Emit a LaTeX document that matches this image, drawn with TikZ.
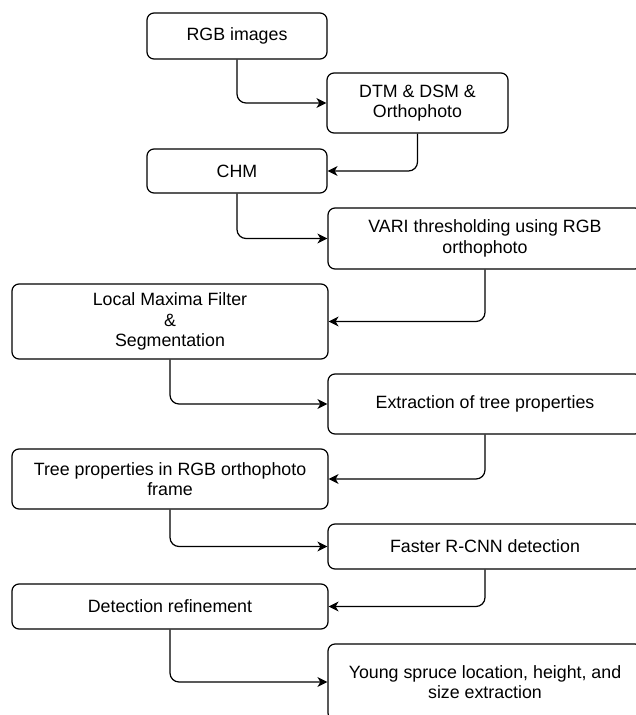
\documentclass[tikz,border=0pt]{standalone}
\usepackage{fontspec}
\setmainfont{Liberation Sans}
\usepackage{xcolor}
\usepackage{tikz}
\usetikzlibrary{arrows.meta, positioning}

\begin{document}
\begin{tikzpicture}[x=1pt, y=-1pt,
    stage/.style={draw, rounded corners=7pt, line width=1.2pt, align=center, inner sep=0pt,
        font=\fontsize{17.8}{20.7}\selectfont},
    leftstage/.style={stage, minimum width=316pt},
    rightstage/.style={stage, minimum width=314pt},
    flow/.style={line width=1.2pt, rounded corners=9pt, -{Stealth[length=10pt, width=10pt, inset=3pt]}}]
    % Page (the right column runs off the edge)
    \useasboundingbox (0,0) rectangle (636,715);
    \clip (0,0) rectangle (636,715);

    % Photogrammetry part
    \node[stage, minimum width=180pt, minimum height=46pt] (rgb) at (237,36) {RGB images};
    \node[stage, minimum width=181pt, minimum height=60pt] (dtm) at (417.5,103) {DTM \& DSM \&\\Orthophoto};
    \node[stage, minimum width=180pt, minimum height=44pt] (chm) at (237,171) {CHM};

    % Tree detection part
    \node[rightstage, minimum height=61pt] (vari) at (485,238.5) {VARI thresholding using RGB\\orthophoto};
    \node[leftstage, minimum height=75pt] (lmf) at (170,321.5) {Local Maxima Filter\\\&\\Segmentation};
    \node[rightstage, minimum height=60pt] (extract) at (485,404) {Extraction of tree properties};
    \node[leftstage, minimum height=60pt] (frame) at (170,479) {Tree properties in RGB orthophoto\\frame};
    \node[rightstage, minimum height=45pt] (frcnn) at (485,546.5) {Faster R-CNN detection};
    \node[leftstage, minimum height=45pt] (refine) at (170,606.5) {Detection refinement};
    \node[rightstage, minimum height=76pt] (young) at (485,682) {Young spruce location, height, and\\size extraction};

    % Connectors
    \draw[flow] (rgb.south) |- (dtm.west);
    \draw[flow] (dtm.south) |- (chm.east);
    \draw[flow] (chm.south) |- (vari.west);
    \draw[flow] (vari.south) |- (lmf.east);
    \draw[flow] (lmf.south) |- (extract.west);
    \draw[flow] (extract.south) |- (frame.east);
    \draw[flow] (frame.south) |- (frcnn.west);
    \draw[flow] (frcnn.south) |- (refine.east);
    \draw[flow] (refine.south) |- (young.west);
\end{tikzpicture}
\end{document}
